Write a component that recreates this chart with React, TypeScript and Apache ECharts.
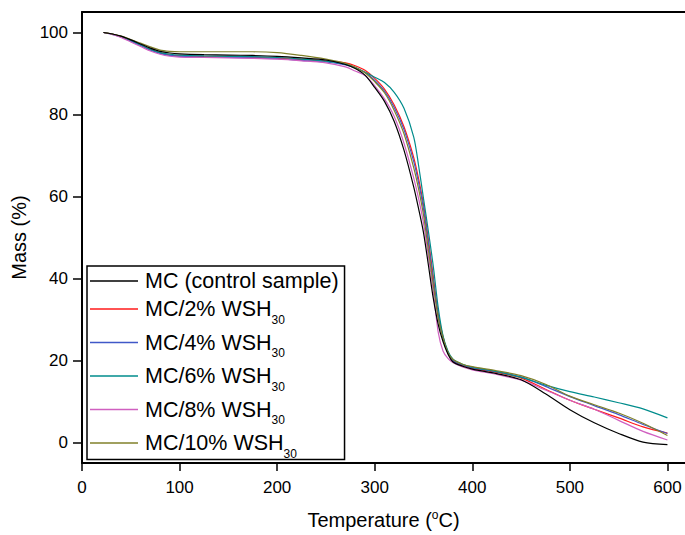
import React, { useEffect, useRef } from "react";
import * as echarts from "echarts";

const temps = [22, 30, 40, 50, 60, 70, 80, 90, 100, 125, 150, 175, 200, 225, 250, 270, 280, 290, 300, 310, 320, 330, 340, 345, 350, 355, 360, 365, 370, 375, 380, 390, 400, 425, 450, 475, 500, 525, 550, 575, 600];

const mcControl = [100, 99.7, 99.1, 98.2, 97.2, 96.2, 95.4, 95.0, 94.8, 94.6, 94.5, 94.4, 94.2, 93.8, 93.3, 92.2, 91.2, 89.6, 86.6, 83.2, 78.3, 71.3, 62.3, 57.0, 51.2, 43.3, 35.2, 28.9, 24.6, 21.6, 19.7, 18.6, 17.9, 16.8, 15.3, 11.9, 8.0, 4.8, 2.2, 0.1, -0.5];
const mc2 = [100, 99.7, 99.0, 98.0, 97.0, 95.9, 95.0, 94.5, 94.3, 94.1, 94.0, 93.9, 93.7, 93.4, 93.1, 92.6, 91.9, 90.8, 88.8, 86.2, 82.3, 77.0, 69.5, 64.3, 58.0, 49.5, 40.5, 31.5, 25.8, 22.0, 20.0, 18.8, 18.1, 17.1, 15.7, 13.0, 10.3, 8.1, 6.0, 3.8, 2.3];
const mc4 = [100, 99.6, 98.9, 97.9, 96.8, 95.7, 94.9, 94.4, 94.2, 94.0, 93.9, 93.8, 93.6, 93.2, 92.8, 92.1, 91.4, 90.3, 88.3, 85.7, 81.7, 76.3, 68.5, 63.3, 57.0, 48.5, 39.5, 31.0, 25.5, 21.8, 20.0, 18.9, 18.2, 17.3, 16.0, 13.7, 11.2, 9.0, 6.8, 4.4, 2.2];
const mc6 = [100, 99.7, 99.0, 98.1, 97.0, 95.9, 95.1, 94.7, 94.5, 94.3, 94.2, 94.1, 93.9, 93.5, 93.0, 92.3, 91.5, 90.3, 89.1, 87.8, 85.4, 81.5, 74.5, 67.5, 59.5, 51.5, 43.0, 33.0, 26.0, 22.3, 20.4, 19.1, 18.4, 17.3, 15.9, 14.0, 12.4, 11.1, 9.7, 8.2, 6.0];
const mc8 = [100, 99.6, 98.8, 97.7, 96.6, 95.5, 94.7, 94.2, 94.0, 93.9, 93.8, 93.7, 93.5, 93.1, 92.6, 91.6, 90.6, 89.5, 87.0, 83.8, 79.5, 73.0, 64.5, 59.5, 53.5, 45.5, 37.0, 27.0, 22.3, 20.5, 19.5, 18.4, 17.7, 16.6, 15.2, 12.8, 10.3, 8.1, 5.4, 2.7, 0.6];
const mc10 = [100, 99.7, 99.1, 98.3, 97.4, 96.5, 95.7, 95.4, 95.3, 95.3, 95.3, 95.3, 95.1, 94.4, 93.5, 92.5, 91.5, 90.2, 88.0, 85.3, 81.0, 75.3, 67.0, 61.8, 55.5, 47.0, 38.5, 30.5, 25.5, 22.0, 20.3, 19.1, 18.5, 17.5, 16.3, 14.2, 11.3, 9.2, 7.2, 4.7, 1.7];

const seriesNames = ["MC (control sample)", "MC/2% WSH30", "MC/4% WSH30", "MC/6% WSH30", "MC/8% WSH30", "MC/10% WSH30"];
const seriesValues = [mcControl, mc2, mc4, mc6, mc8, mc10];
const seriesColors = ["#000000", "#ff1a1a", "#4058c8", "#008c8c", "#d060c0", "#80802a"];

const xTicks = [0, 100, 200, 300, 400, 500, 600];
const yTicks = [0, 20, 40, 60, 80, 100];

const FONT = "'Liberation Sans', Arial, sans-serif";

export default function App() {
  const ref = useRef<HTMLDivElement>(null);
  useEffect(() => {
    if (!ref.current) return;
    const chart = echarts.init(ref.current, null, { renderer: "svg" });
    const series = seriesNames.map((name, i) => ({
      name,
      type: "line",
      data: temps.map((t, j) => [t, seriesValues[i][j]]),
      symbol: "none",
      smooth: 0.3,
      lineStyle: { color: seriesColors[i], width: 1.2 },
      itemStyle: { color: seriesColors[i] },
      z: i === 0 ? 3 : 2,
    }));
    chart.setOption({
      animation: false,
      backgroundColor: "#ffffff",
      grid: { left: 82, right: 0, top: 12, bottom: 68 },
      xAxis: [
        {
          type: "value",
          min: 0,
          max: 618,
          position: "bottom",
          splitLine: { show: false },
          axisLine: { show: true, onZero: false, lineStyle: { color: "#000", width: 2 } },
          axisTick: { show: true, length: 8, lineStyle: { color: "#000", width: 1.5 }, customValues: xTicks },
          axisLabel: { customValues: xTicks, margin: 16, color: "#000", fontSize: 17, fontFamily: FONT },
          name: "Temperature ({sup|o}C)",
          nameLocation: "middle",
          nameGap: 46,
          nameTextStyle: {
            color: "#000",
            fontSize: 20,
            fontFamily: FONT,
            rich: { sup: { fontSize: 12, fontFamily: FONT, color: "#000", padding: [0, 0, 10, 0] } },
          },
        },
        {
          type: "value",
          min: 0,
          max: 618,
          position: "top",
          splitLine: { show: false },
          axisLine: { show: true, onZero: false, lineStyle: { color: "#000", width: 2 } },
          axisTick: { show: false },
          axisLabel: { show: false },
        },
      ],
      yAxis: {
        type: "value",
        min: -5,
        max: 105,
        splitLine: { show: false },
        axisLine: { show: true, onZero: false, lineStyle: { color: "#000", width: 2 } },
        axisTick: { show: true, length: 9, lineStyle: { color: "#000", width: 1.5 }, customValues: yTicks },
        axisLabel: { customValues: yTicks, margin: 14, color: "#000", fontSize: 17, fontFamily: FONT },
        name: "Mass (%)",
        nameLocation: "middle",
        nameGap: 50,
        nameTextStyle: { color: "#000", fontSize: 20, fontFamily: FONT },
      },
      legend: {
        orient: "vertical",
        left: 87,
        top: 266,
        padding: [4, 6, 0, 3],
        itemGap: 0.5,
        icon: "rect",
        itemWidth: 48,
        itemHeight: 1.5,
        borderColor: "#000",
        borderWidth: 1.5,
        data: seriesNames,
        formatter: (name: string) => name.replace(/WSH30$/, "WSH{sub|30}"),
        textStyle: {
          color: "#000",
          fontSize: 21.5,
          fontFamily: FONT,
          lineHeight: 14,
          padding: [0, 0, 0, 2],
          rich: {
            sub: { fontSize: 12, fontFamily: FONT, color: "#000", lineHeight: 14, padding: [21, 0, 0, 0] },
          },
        },
      },
      series,
    });
    return () => chart.dispose();
  }, []);
  return <div ref={ref} style={{ position: "fixed", left: 0, top: 0, width: 685, height: 535 }} />;
}
